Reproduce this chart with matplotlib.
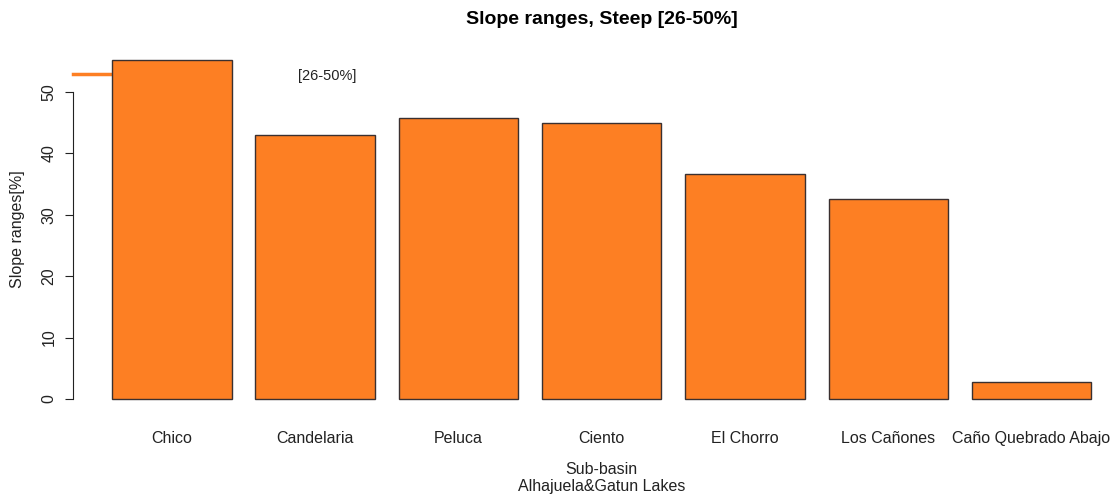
import matplotlib.pyplot as plt
import numpy as np

plt.rcParams['font.family'] = ['Liberation Sans', 'DejaVu Sans']

# Steep slope share per sub-basin
subbasins = ["Chico", "Candelaria", "Peluca", "Ciento", "El Chorro",
             "Los Cañones", "Caño Quebrado Abajo"]
steep_pct = [55.2, 43.0, 45.8, 44.9, 36.6, 32.6, 2.7]
legend_label = "[26-50%]"
legend_level = 52.9

bar_color = "#FD7F23"
edge_color = "#3a3030"
text_color = "#222222"
fs = 11.5

W, H = 1119, 504
fig = plt.figure(figsize=(W / 100, H / 100), dpi=100)

# barplot-style layout: width 1, space 0.2, 4% axis padding
n = len(steep_pct)
space = 0.2
lefts = space + np.arange(n) * (1 + space)
centers = lefts + 0.5
x0, x1 = lefts[0], lefts[-1] + 1
pad_x = 0.04 * (x1 - x0)
ymax = max(steep_pct)

px_per_unit = 119.4
ax_left_px = 73
ax_w_px = (x1 - x0 + 2 * pad_x) * px_per_unit
ax_bottom_px, ax_top_px = 412.5, 46.5
ax = fig.add_axes([ax_left_px / W, 1 - ax_bottom_px / H,
                   ax_w_px / W, (ax_bottom_px - ax_top_px) / H])
ax.set_xlim(x0 - pad_x, x1 + pad_x)
ax.set_ylim(-0.04 * ymax, 1.04 * ymax)
mid_x = (ax_left_px + ax_w_px / 2) / W

# legend sample line sits underneath the first bar
ax.plot([0, 0.06], [legend_level, legend_level], color=bar_color, lw=2.5,
        transform=ax.get_yaxis_transform(), zorder=1, clip_on=False)
ax.text(2.0, 52.6, legend_label, fontsize=10.5, color=text_color,
        ha="center", va="center")

ax.bar(centers, steep_pct, width=1, color=bar_color, edgecolor=edge_color,
       linewidth=1, zorder=2)

for s in ["top", "right", "bottom"]:
    ax.spines[s].set_visible(False)
ax.spines["left"].set_bounds(0, 50)
ax.spines["left"].set_color(text_color)

ax.set_yticks(np.arange(0, 51, 10))
ax.tick_params(axis="y", length=6, pad=6, labelsize=fs, colors=text_color,
               labelrotation=90)
for lab in ax.get_yticklabels():
    lab.set_va("center")

ax.set_xticks(centers)
ax.set_xticklabels(subbasins)
ax.tick_params(axis="x", length=0, pad=13, labelsize=fs, colors=text_color)

ax.set_ylabel("Slope ranges[%]", fontsize=fs, color=text_color)
ax.yaxis.set_label_coords((25 - ax_left_px) / ax_w_px, 0.5)

fig.text(mid_x, 1 - 478 / H, "Sub-basin\nAlhajuela&Gatun Lakes",
         ha="center", va="center", fontsize=fs, color=text_color,
         linespacing=1.25)
fig.text(mid_x, 1 - 19 / H, "Slope ranges, Steep [26-50%]",
         ha="center", va="center", fontsize=14, fontweight="bold")

fig.savefig("out.png", dpi=100)
